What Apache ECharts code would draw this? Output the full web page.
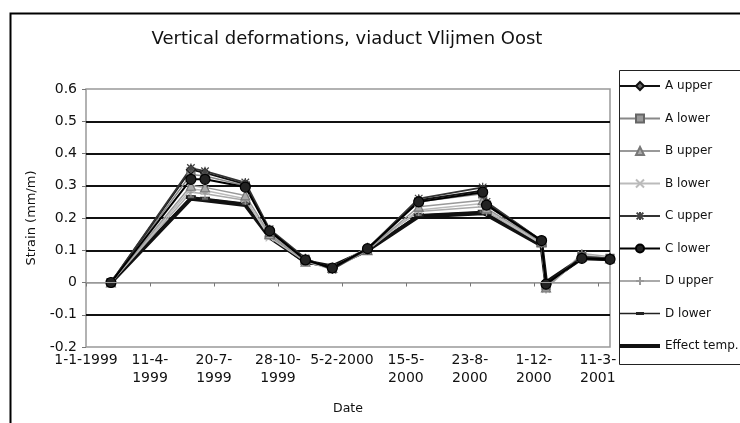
<!DOCTYPE html>
<html>
<head>
<meta charset="utf-8">
<script src="https://cdn.jsdelivr.net/npm/echarts@6/dist/echarts.min.js"></script>
<style>
  html, body { margin: 0; padding: 0; background: #fff; }
  #chart { width: 740px; height: 423px; }
</style>
</head>
<body>
<div id="chart"></div>
<script>
var dates = ['1999-02-09', '1999-06-14', '1999-07-06', '1999-09-07', '1999-10-15', '1999-12-10',
  '2000-01-21', '2000-03-16', '2000-06-04', '2000-09-12', '2000-09-18', '2000-12-13',
  '2000-12-20', '2001-02-14', '2001-03-30'];

// strain values (mm/m)
var aUpper = [0, 0.35, 0.34, 0.305, 0.16, 0.07, 0.045, 0.105, 0.255, 0.285, 0.245, 0.13, -0.005, 0.075, 0.075];
var aLower = [0, 0.335, 0.33, 0.30, 0.155, 0.07, 0.045, 0.10, 0.25, 0.275, 0.24, 0.125, -0.01, 0.08, 0.075];
var bUpper = [0, 0.30, 0.295, 0.27, 0.15, 0.065, 0.045, 0.10, 0.235, 0.255, 0.23, 0.125, -0.015, 0.08, 0.075];
var bLower = [0, 0.29, 0.285, 0.26, 0.14, 0.065, 0.04, 0.10, 0.225, 0.245, 0.225, 0.12, -0.02, 0.085, 0.075];
var cUpper = [0, 0.355, 0.345, 0.31, 0.165, 0.075, 0.04, 0.105, 0.26, 0.295, 0.25, 0.13, -0.005, 0.08, 0.075];
var cLower = [0, 0.32, 0.32, 0.296, 0.16, 0.07, 0.045, 0.105, 0.25, 0.28, 0.24, 0.13, -0.005, 0.075, 0.072];
var dUpper = [0, 0.28, 0.275, 0.255, 0.145, 0.07, 0.045, 0.11, 0.22, 0.235, 0.22, 0.12, -0.02, 0.09, 0.08];
var dLower = [0, 0.265, 0.26, 0.245, 0.14, 0.06, 0.05, 0.10, 0.21, 0.22, 0.215, 0.115, -0.01, 0.075, 0.07];
var effectTemp = [0, 0.26, 0.255, 0.24, 0.14, 0.065, 0.05, 0.10, 0.205, 0.215, 0.21, 0.115, 0, 0.075, 0.072];

// x ticks every 100 days from 1-1-1999
var xTickLabels = ['1-1-1999', '11-4-\n1999', '20-7-\n1999', '28-10-\n1999', '5-2-2000',
  '15-5-\n2000', '23-8-\n2000', '1-12-\n2000', '11-3-\n2001'];
var yTicks = [-0.2, -0.1, 0, 0.1, 0.2, 0.3, 0.4, 0.5, 0.6];

var startDay = Date.UTC(1999, 0, 1);
function dayOf(s) {
  var p = s.split('-');
  return Math.round((Date.UTC(+p[0], +p[1] - 1, +p[2]) - startDay) / 86400000);
}
var xDays = dates.map(dayOf);
function pts(vals) {
  return vals.map(function (v, i) { return [xDays[i], v]; });
}

var FONT = 'DejaVu Sans';

function mk(name, vals, lineColor, lineWidth, symbol, size, fill, border) {
  return {
    name: name,
    type: 'line',
    data: pts(vals),
    symbol: symbol,
    symbolSize: size,
    showSymbol: symbol !== 'none',
    lineStyle: { color: lineColor, width: lineWidth },
    itemStyle: { color: fill, borderColor: border, borderWidth: 1.2 },
    emphasis: { disabled: true },
    animation: false
  };
}

var series = [
  mk('Effect temp.', effectTemp, '#111', 4, 'none', 0, '#111', '#111'),
  mk('D lower', dLower, '#111', 1.8, 'rect', [8, 3], '#666', '#222'),
  mk('D upper', dUpper, '#aaa', 1.5, 'path://M0,5L10,5M5,0L5,10', 9, '#999', '#999'),
  mk('B lower', bLower, '#bbb', 1.5, 'path://M0,0L10,10M10,0L0,10', 8, '#bbb', '#bbb'),
  mk('B upper', bUpper, '#999', 1.5, 'triangle', 9, '#aaa', '#777'),
  mk('A lower', aLower, '#888', 1.5, 'rect', 8, '#999', '#666'),
  mk('A upper', aUpper, '#111', 1.8, 'diamond', 9, '#666', '#111'),
  mk('C upper', cUpper, '#333', 1.8, 'path://M0,0L10,10M10,0L0,10M5,-1L5,11M-1,5L11,5', 9, '#444', '#444'),
  mk('C lower', cLower, '#000', 2, 'circle', 10, '#222', '#000')
];
series[0].markLine = {
  silent: true, symbol: 'none', label: { show: false },
  lineStyle: { color: '#999', width: 1, type: 'solid' },
  data: [{ yAxis: 0 }]
};

var legendData = [
  'A upper', 'A lower', 'B upper', 'B lower', 'C upper', 'C lower', 'D upper',
  { name: 'D lower', icon: 'path://M0,0h0.01v0.01h-0.01z M39.99,9.99h0.01v0.01h-0.01z M0,4.2h40v1.6h-40z M16,3.5h8v3h-8z',
    itemStyle: { color: '#222', borderWidth: 0 } },
  { name: 'Effect temp.', icon: 'path://M0,0h0.01v0.01h-0.01z M39.99,9.99h0.01v0.01h-0.01z M0,3h40v4h-40z',
    itemStyle: { color: '#111', borderWidth: 0 } }
];

var chart = echarts.init(document.getElementById('chart'), null, { renderer: 'canvas' });
chart.setOption({
  backgroundColor: '#fff',
  animation: false,
  title: {
    text: 'Vertical deformations, viaduct Vlijmen Oost',
    left: 342, top: 25, textAlign: 'center',
    textStyle: { fontFamily: FONT, fontSize: 18, fontWeight: 'normal', color: '#111' }
  },
  grid: {
    left: 86, right: 130, top: 89, bottom: 76,
    show: true, borderColor: '#999', borderWidth: 1.5, backgroundColor: 'transparent'
  },
  legend: {
    orient: 'vertical', left: 619, top: 79, padding: 0,
    data: legendData,
    itemWidth: 40, itemHeight: 10, itemGap: 18.5,
    textStyle: { fontFamily: FONT, fontSize: 12, color: '#111', lineHeight: 14 },
    selectedMode: false
  },
  xAxis: {
    type: 'value', min: 0, max: dayOf('2001-03-30'), interval: 100,
    name: 'Date', nameLocation: 'middle', nameGap: 55,
    nameTextStyle: { fontFamily: FONT, fontSize: 12.5, color: '#111' },
    axisLine: { show: true, lineStyle: { color: '#999', width: 1.5 } },
    axisTick: { show: true, inside: false, length: 4, lineStyle: { color: '#777' } },
    axisLabel: {
      fontFamily: FONT, fontSize: 14, color: '#111', lineHeight: 18, margin: 4,
      showMaxLabel: false,
      formatter: function (v) {
        var i = Math.round(v / 100);
        return (v % 100 === 0 && xTickLabels[i]) ? xTickLabels[i] : '';
      }
    },
    splitLine: { show: false }
  },
  yAxis: {
    type: 'value', min: -0.2, max: 0.6, interval: 0.1,
    name: 'Strain (mm/m)', nameLocation: 'middle', nameGap: 48,
    nameTextStyle: { fontFamily: FONT, fontSize: 13, color: '#111' },
    axisLine: { show: false },
    axisTick: { show: true, length: 4, lineStyle: { color: '#777' } },
    axisLabel: {
      fontFamily: FONT, fontSize: 14, color: '#111', margin: 9,
      formatter: function (v) {
        var i = Math.round((v + 0.2) * 10);
        return yTicks[i] === undefined ? '' : String(yTicks[i]);
      }
    },
    splitLine: {
      show: true,
      lineStyle: {
        width: 2,
        color: ['rgba(0,0,0,0)', '#111', 'rgba(0,0,0,0)', '#111', '#111', '#111', '#111', '#111', 'rgba(0,0,0,0)']
      }
    }
  },
  graphic: [
    { type: 'rect', left: 8, top: 11, shape: { width: 740, height: 420 },
      style: { fill: 'none', stroke: '#000', lineWidth: 2 }, silent: true, z: -1 },
    { type: 'rect', left: 617, top: 68, shape: { width: 130, height: 294 },
      style: { fill: 'none', stroke: '#222', lineWidth: 1 }, silent: true, z: -1 }
  ],
  series: series
});
</script>
</body>
</html>
